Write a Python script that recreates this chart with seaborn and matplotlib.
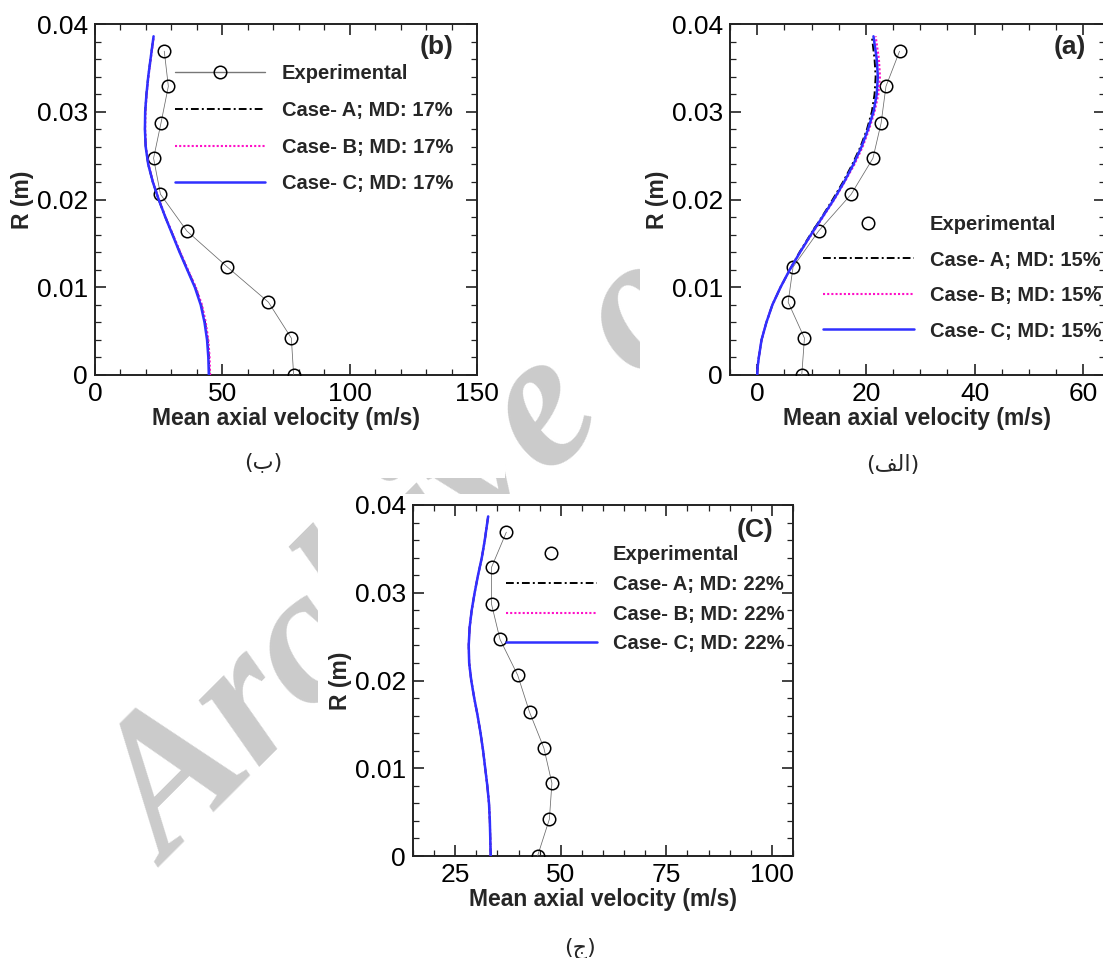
import numpy as np
import pandas as pd
import seaborn as sns
import matplotlib
matplotlib.use("Agg")
import matplotlib.pyplot as plt
from matplotlib.lines import Line2D
from matplotlib.patches import Rectangle
from matplotlib.ticker import MultipleLocator, FixedLocator, FuncFormatter

# ---------------- data ----------------
R_exp = [0.0, 0.0042, 0.0083, 0.0123, 0.0164, 0.0206, 0.0247, 0.0287, 0.0329, 0.0369]

# panel (b)
exp_b = [78.0, 77.1, 68.1, 52.0, 36.1, 25.7, 23.0, 25.9, 28.8, 27.2]
R_sim_b = [0.0, 0.002, 0.004, 0.006, 0.008, 0.010, 0.012, 0.014, 0.016, 0.018,
           0.020, 0.022, 0.024, 0.026, 0.028, 0.030, 0.032, 0.034, 0.036, 0.0386]
caseC_b = [44.7, 44.5, 44.0, 43.0, 41.5, 39.2, 36.2, 33.2, 30.4, 27.6,
           25.0, 22.7, 20.9, 19.9, 19.6, 19.7, 20.2, 20.9, 21.8, 23.0]
caseA_b = [44.9, 44.7, 44.2, 43.2, 41.7, 39.4, 36.3, 33.3, 30.5, 27.6,
           25.0, 22.7, 20.9, 19.9, 19.6, 19.7, 20.2, 20.9, 21.8, 23.0]
caseB_b = [45.2, 45.0, 44.5, 43.5, 42.0, 39.6, 36.5, 33.5, 30.6, 27.7,
           25.1, 22.8, 21.0, 20.0, 19.7, 19.8, 20.3, 21.0, 21.9, 23.1]

# panel (a)
exp_a = [8.2, 8.7, 5.7, 6.6, 11.3, 17.3, 21.3, 22.8, 23.7, 26.2]
R_sim_a = [0.0, 0.001, 0.002, 0.004, 0.006, 0.008, 0.010, 0.012, 0.014, 0.016,
           0.018, 0.020, 0.022, 0.024, 0.026, 0.028, 0.030, 0.032, 0.034, 0.036, 0.0386]
caseC_a = [0.0, 0.1, 0.3, 0.8, 1.7, 2.8, 4.3, 6.0, 7.9, 9.9,
           12.0, 14.1, 16.0, 17.7, 19.2, 20.4, 21.4, 22.0, 22.2, 22.0, 21.4]
caseA_a = [0.0, 0.1, 0.3, 0.8, 1.7, 2.8, 4.3, 6.0, 7.8, 9.8,
           11.9, 13.9, 15.8, 17.5, 19.0, 20.2, 21.1, 21.6, 21.8, 21.6, 21.1]
caseB_a = [0.0, 0.1, 0.3, 0.8, 1.7, 2.8, 4.3, 6.0, 7.9, 10.0,
           12.1, 14.2, 16.1, 17.9, 19.4, 20.6, 21.6, 22.3, 22.6, 22.4, 21.8]

# panel (C)
exp_c = [44.5, 47.3, 47.9, 46.0, 42.6, 39.8, 35.6, 33.6, 33.6, 37.1]
R_sim_c = [0.0, 0.002, 0.004, 0.006, 0.008, 0.010, 0.012, 0.014, 0.016, 0.018,
           0.020, 0.022, 0.024, 0.026, 0.028, 0.030, 0.032, 0.034, 0.036, 0.0387]
caseC_c = [33.4, 33.3, 33.2, 33.0, 32.6, 32.1, 31.6, 31.0, 30.3, 29.5,
           28.8, 28.3, 28.2, 28.4, 28.9, 29.6, 30.4, 31.3, 32.0, 32.8]
caseA_c = list(caseC_c)
caseB_c = list(caseC_c)

md_b, md_a, md_c = "17%", "15%", "22%"
xticks_b = [0, 50, 100, 150]
xticks_a = [0, 20, 40, 60]
xticks_c = [25, 50, 75, 100]
yticks = [0.0, 0.01, 0.02, 0.03, 0.04]
xlabel = "Mean axial velocity (m/s)"
ylabel = "R (m)"

# ---------------- style ----------------
sns.set_theme(style="white")
plt.rcParams["font.family"] = ["Liberation Sans", "DejaVu Sans"]
plt.rcParams["axes.linewidth"] = 1.4
plt.rcParams["lines.scale_dashes"] = True

W, H = 1103, 958
fig = plt.figure(figsize=(W / 100, H / 100), dpi=100)
fig.patch.set_facecolor("white")

def fr(x0, y0, x1, y1):
    return [x0 / W, 1 - y1 / H, (x1 - x0) / W, (y1 - y0) / H]

# watermark behind the panel "images"
fig.text(168 / W, 1 - 868 / H, "Archive of SID", rotation=45, rotation_mode="anchor",
         fontsize=140, color="#cbcbcb", family="Liberation Serif",
         weight="bold", style="italic", ha="left", va="baseline", zorder=0)
for (x0, y0, x1, y1) in [(0, 0, 505, 478), (640, 0, W, 488), (318, 494, 840, H)]:
    fig.patches.append(Rectangle((x0 / W, 1 - y1 / H), (x1 - x0) / W, (y1 - y0) / H,
                                 transform=fig.transFigure, facecolor="white",
                                 edgecolor="none", zorder=0.5))

BLUE = "#3030ff"
MAG = "#ff10c8"
GRAY = "#6a6a6a"

def panel(rect, xlim, xticks, minor, exp, R_sim, A, B, C, md, tag, leg_anchor,
          leg_spacing, exp_line, tag_pos, caption, cap_pos):
    ax = fig.add_axes(rect, zorder=1)
    ax.set_facecolor("white")
    dA = pd.DataFrame({"v": A, "R": R_sim})
    dB = pd.DataFrame({"v": B, "R": R_sim})
    dC = pd.DataFrame({"v": C, "R": R_sim})
    dE = pd.DataFrame({"v": exp, "R": R_exp})
    sns.lineplot(data=dE, x="v", y="R", sort=False, estimator=None, ax=ax,
                 color=GRAY, lw=0.55, marker="o", markersize=9, mfc="none",
                 mec="black", mew=1.1, zorder=3)
    sns.lineplot(data=dA, x="v", y="R", sort=False, estimator=None, ax=ax,
                 color="black", lw=1.4, zorder=4).lines[-1].set_dashes((4, 1.6, 1, 1.6))
    sns.lineplot(data=dB, x="v", y="R", sort=False, estimator=None, ax=ax,
                 color=MAG, lw=1.5, zorder=5).lines[-1].set_dashes((1, 1))
    sns.lineplot(data=dC, x="v", y="R", sort=False, estimator=None, ax=ax,
                 color=BLUE, lw=1.8, zorder=6)

    ax.set_xlim(*xlim)
    ax.set_ylim(0, 0.04)
    ax.xaxis.set_major_locator(FixedLocator(xticks))
    ax.xaxis.set_minor_locator(MultipleLocator(minor))
    ax.yaxis.set_major_locator(FixedLocator(yticks))
    ax.yaxis.set_minor_locator(MultipleLocator(0.002))
    ax.yaxis.set_major_formatter(FuncFormatter(lambda v, p: "0" if abs(v) < 1e-9 else f"{v:.2f}"))
    ax.xaxis.set_major_formatter(FuncFormatter(lambda v, p: f"{v:g}"))
    ax.tick_params(which="both", direction="in", top=True, right=True,
                   bottom=True, left=True, colors="#222222", labelcolor="black")
    ax.tick_params(which="major", length=8, width=1.2, labelsize=19, pad=5)
    ax.tick_params(which="minor", length=4.5, width=0.9)
    for s in ax.spines.values():
        s.set_color("#222222")
        s.set_linewidth(1.4)
    ax.set_xlabel(xlabel, fontsize=16.5, fontweight="bold", labelpad=1)
    ax.set_ylabel(ylabel, fontsize=16.5, fontweight="bold", labelpad=2)

    if exp_line:
        hE = Line2D([], [], color="#777777", lw=1.0, marker="o", markersize=9,
                    mfc="none", mec="black", mew=1.1)
    else:
        hE = Line2D([], [], ls="none", marker="o", markersize=9,
                    mfc="none", mec="black", mew=1.1)
    hA = Line2D([], [], color="black", lw=1.4)
    hA.set_dashes((4, 1.6, 1, 1.6))
    hB = Line2D([], [], color=MAG, lw=1.5)
    hB.set_dashes((1, 1))
    hC = Line2D([], [], color=BLUE, lw=1.8)
    labels = ["Experimental", f"Case- A; MD: {md}", f"Case- B; MD: {md}", f"Case- C; MD: {md}"]
    leg = ax.legend([hE, hA, hB, hC], labels, loc="center left", bbox_to_anchor=leg_anchor,
                    frameon=False, borderpad=0, borderaxespad=0, handlelength=4.5,
                    handletextpad=0.8, labelspacing=leg_spacing,
                    prop={"size": 14.5, "weight": "bold"})
    leg.set_zorder(10)
    ax.text(tag_pos[0], tag_pos[1], tag, transform=ax.transAxes, ha="center", va="center",
            fontsize=19, fontweight="bold", zorder=11)
    fig.text(cap_pos[0] / W, 1 - cap_pos[1] / H, caption, ha="center", va="center",
             fontsize=16, family="DejaVu Sans", zorder=2)
    return ax

# (b) top-left
panel(fr(95, 24, 477, 375), (0, 150), xticks_b, 10, exp_b, R_sim_b, caseA_b, caseB_b, caseC_b,
      md_b, "(b)", (0.209, 0.702), 0.89, True, (0.893, 0.934), "(\uFE8F)", (263, 462))
# (a) top-right
panel(fr(730, 24, 1105, 375), (-5, 64), xticks_a, 5, exp_a, R_sim_a, caseA_a, caseB_a, caseC_a,
      md_a, "(a)", (0.248, 0.277), 0.82, False, (0.907, 0.934), "(\uFED2\uFEDF\uFE8D)", (893, 465))
# (C) bottom
panel(fr(413, 505, 793, 856), (15, 105), xticks_c, 5, exp_c, R_sim_c, caseA_c, caseB_c, caseC_c,
      md_c, "(C)", (0.245, 0.731), 0.53, False, (0.9, 0.929), "(\uFE9D)", (580, 948))

fig.savefig("out.png", dpi=100, facecolor="white")
